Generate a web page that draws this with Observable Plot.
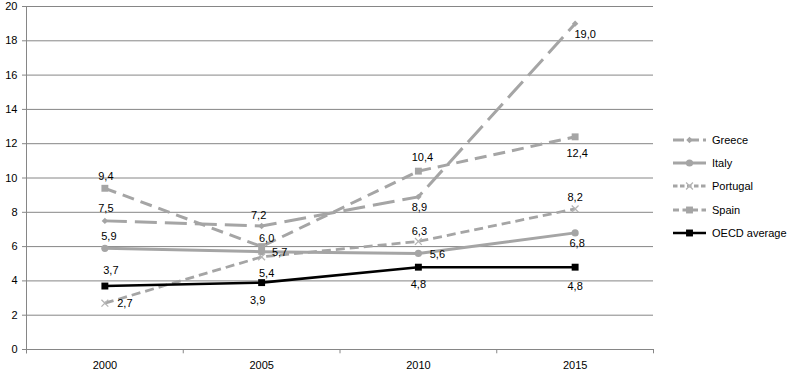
<!DOCTYPE html>
<html><head><meta charset="utf-8">
<script src="https://cdn.jsdelivr.net/npm/d3@7"></script>
<script src="https://cdn.jsdelivr.net/npm/@observablehq/plot@0.6"></script>
<style>
html,body{margin:0;padding:0;background:#fff;}
#wrap{position:relative;width:787px;height:372px;font-family:"Liberation Sans",Arial,sans-serif;color:#000;}
#legend{position:absolute;left:673px;top:128.5px;font-size:11px;}
.item{display:flex;align-items:center;height:23.2px;white-space:nowrap;}
.item svg{margin-right:6px;display:block}
</style></head><body><div id="wrap"><div id="chart"></div><div id="legend"></div></div>
<script>
// ---- data ----
const years = [2000, 2005, 2010, 2015];
const seriesNames = ["Greece", "Italy", "Portugal", "Spain", "OECD average"];
const greece = [7.5, 7.2, 8.9, 19.0];
const italy = [5.9, 5.7, 5.6, 6.8];
const portugal = [2.7, 5.4, 6.3, 8.2];
const spain = [9.4, 6.0, 10.4, 12.4];
const oecd = [3.7, 3.9, 4.8, 4.8];
const yTicks = [0, 2, 4, 6, 8, 10, 12, 14, 16, 18, 20];
const xTickLabels = ["2000", "2005", "2010", "2015"];

// ---- styles ----
const gray = "#a5a5a5";
const styles = {
  "Greece":       {stroke: gray, width: 3, dash: "22,8", symbol: "diamond2", r: 2.9, fill: gray, mstroke: "none"},
  "Italy":        {stroke: gray, width: 3, dash: null, symbol: "circle", r: 3.6, fill: gray, mstroke: "none"},
  "Portugal":     {stroke: gray, width: 2.8, dash: "9,5", symbol: "times", r: 3.2, fill: "none", mstroke: "#b5b5b5"},
  "Spain":        {stroke: gray, width: 3, dash: "12,7", symbol: "square", r: 3.9, fill: gray, mstroke: "none"},
  "OECD average": {stroke: "#000", width: 2.6, dash: null, symbol: "square", r: 3.9, fill: "#000", mstroke: "none"}
};
// label offsets [dx, dy] relative to point, per series per year
const labelOffsets = {
  "Greece":       [[1, -12], [-3, -11], [1, 11], [10, 11]],
  "Italy":        [[4, -12], [18, 1], [19, 1], [2, 11]],
  "Portugal":     [[20, 0], [5, 17], [1, -10], [0, -11]],
  "Spain":        [[1, -12], [5, -8], [4, -14], [2, 17]],
  "OECD average": [[6, -16], [-4, 18], [0, 17], [0, 19]]
};

const valuesBySeries = {"Greece": greece, "Italy": italy, "Portugal": portugal, "Spain": spain, "OECD average": oecd};
const rows = seriesNames.flatMap(s => years.map((yr, i) => ({series: s, year: yr, value: valuesBySeries[s][i], i})));
const fmt = v => d3.format(".1f")(v).replace(".", ",");

const step = years[1] - years[0];
const xMin = years[0] - step / 2, xMax = years[years.length - 1] + step / 2;
const bounds = d3.range(years.length + 1).map(k => xMin + k * step);
const axisColor = "#868686";

const marks = [
  Plot.ruleY(yTicks, {x1: xMin, x2: xMax, stroke: axisColor, strokeWidth: 1}),
  Plot.ruleX([xMin], {y1: -0.25, y2: 20, stroke: axisColor}),
  Plot.ruleX(bounds, {y1: -0.25, y2: 0, stroke: axisColor}),
  Plot.axisY({ticks: yTicks, tickSize: 4, tickPadding: 5, stroke: axisColor, fill: "#000", fontSize: 11, label: null}),
  Plot.axisX(years, {tickSize: 0, tickPadding: 12, tickFormat: (d) => xTickLabels[years.indexOf(d)], fill: "#000", fontSize: 11, label: null})
];
for (const s of seriesNames) {
  const st = styles[s];
  const data = rows.filter(d => d.series === s);
  marks.push(Plot.line(data, {x: "year", y: "value", stroke: st.stroke, strokeWidth: st.width, strokeDasharray: st.dash || undefined, strokeLinecap: "butt", strokeLinejoin: "round"}));
}
for (const s of seriesNames) {
  const st = styles[s];
  const data = rows.filter(d => d.series === s);
  marks.push(Plot.dot(data, {x: "year", y: "value", symbol: st.symbol, r: st.r, fill: st.fill, stroke: st.mstroke, strokeWidth: 1.3}));
}
for (const s of seriesNames) {
  rows.filter(d => d.series === s).forEach(d => {
    const [dx, dy] = labelOffsets[s][d.i];
    marks.push(Plot.text([d], {x: "year", y: "value", text: d => fmt(d.value), dx, dy, fill: "#000", fontSize: 11}));
  });
}

const chart = Plot.plot({
  width: 787, height: 372,
  marginLeft: 26, marginRight: 134, marginTop: 6, marginBottom: 23,
  style: {fontFamily: '"Liberation Sans", Arial, sans-serif', fontSize: "11px", background: "#fff", color: "#000"},
  x: {type: "linear", domain: [xMin, xMax], label: null},
  y: {domain: [0, 20], label: null},
  marks
});
document.getElementById("chart").appendChild(chart);

// ---- legend ----
const symMap = {diamond2: d3.symbolDiamond2, circle: d3.symbolCircle, times: d3.symbolTimes, square: d3.symbolSquare};
const legend = d3.select("#legend");
for (const s of seriesNames) {
  const st = styles[s];
  const item = legend.append("div").attr("class", "item");
  const svg = item.append("svg").attr("width", 33).attr("height", 12);
  svg.append("line").attr("x1", 0).attr("x2", 33).attr("y1", 6).attr("y2", 6)
    .attr("stroke", st.stroke).attr("stroke-width", st.width)
    .attr("stroke-dasharray", st.dash ? st.dash.split(",").map(v => +v * 0.5).join(",") : null);
  svg.append("path").attr("transform", "translate(16.5,6)")
    .attr("d", d3.symbol(symMap[st.symbol], Math.PI * st.r * st.r)())
    .attr("fill", st.fill).attr("stroke", st.mstroke).attr("stroke-width", 1.3);
  item.append("span").text(s);
}
</script></body></html>
